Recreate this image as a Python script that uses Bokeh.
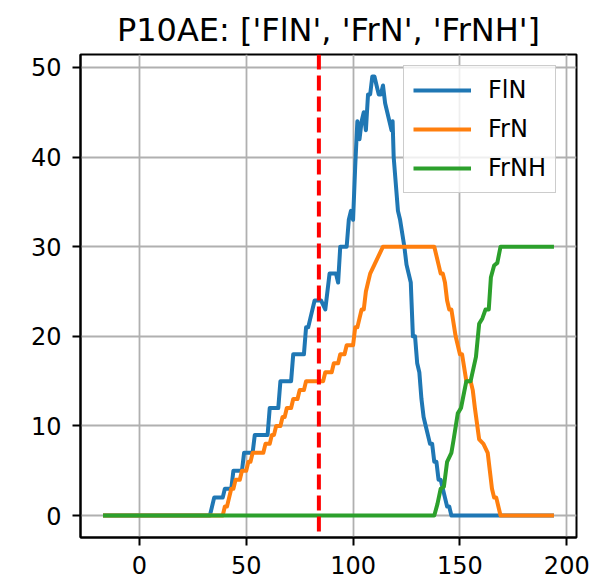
from bokeh.plotting import figure
from bokeh.models import Span, Range1d, Legend, LegendItem, FixedTicker
from bokeh.embed import file_html
from bokeh.resources import INLINE

title_text = "P10AE: ['FlN', 'FrN', 'FrNH']"
series_names = ["FlN", "FrN", "FrNH"]
x_ticks = [0, 50, 100, 150, 200]
y_ticks = [0, 10, 20, 30, 40, 50]
marker_x = 84

fln_x = [-17, 33, 35, 39, 40, 43, 44, 48, 49, 53, 54, 60, 61, 65, 66, 71, 72, 77, 78, 79, 80, 82,
         85, 87, 89, 92, 93, 94, 97, 98, 99, 100, 101, 102, 103, 104, 105, 106, 107, 108, 109, 110,
         111, 112, 113, 114, 115, 116, 117, 118, 118.5, 119, 121, 122, 124, 125, 127, 128, 129, 130,
         131, 132, 133, 134, 135, 136, 137, 138, 139, 140, 141, 142, 143, 144, 145, 146, 194]
fln_y = [0, 0, 2, 2, 3, 3, 5, 5, 7, 7, 9, 9, 12, 12, 15, 15, 18, 18, 21, 21, 22, 24,
         24, 23, 27, 27, 26, 30, 30, 33, 34, 33, 39, 44, 42, 44, 45, 43, 47, 47, 49, 49,
         48, 47, 47, 48, 46, 45, 44, 43, 44, 40, 34, 33, 30, 28, 26, 20, 20, 17,
         16, 13, 11, 10, 9, 8, 8, 6, 6, 4, 4, 3, 2, 1, 1, 0, 0]

frn_x = [-17, 39, 40, 41, 42, 43, 44, 45, 47, 48, 50, 51, 52, 53, 58, 59, 61, 62, 63, 64, 66, 67,
         68, 69, 71, 72, 74, 75, 77, 78, 82, 86, 87, 90, 91, 93, 94, 96, 97, 100, 101, 102, 103,
         104, 105, 106, 107, 108, 110, 112, 114, 138, 140, 141, 142, 143, 144, 145, 146, 148, 150,
         151, 153, 155, 156, 157, 159, 161, 163, 164, 165, 166, 167, 169, 194]
frn_y = [0, 0, 1, 1, 2, 3, 3, 4, 4, 5, 5, 6, 6, 7, 7, 8, 8, 9, 9, 10, 10, 11,
         11, 12, 12, 13, 13, 14, 14, 15, 15, 15, 16, 16, 17, 17, 18, 18, 19, 19, 21, 21, 22,
         23, 23, 25, 26, 27, 28, 29, 30, 30, 28, 27, 27, 26, 24, 23, 23, 20, 18,
         18, 15, 15, 14, 12, 8.5, 8, 7, 5, 3, 2, 2, 0, 0]

frnh_x = [-17, 138, 139.5, 141, 142.5, 144, 146, 147, 149, 150.5, 153, 155, 157.5, 159, 160.5,
          162, 163.5, 164.5, 166, 167.5, 169, 194]
frnh_y = [0, 0, 1.3, 3, 3.2, 6, 7, 8.4, 11.4, 12, 15, 15, 17.7, 21.4, 22,
          23, 23, 26.6, 27.9, 28.2, 30, 30]

colors = ["#1f77b4", "#ff7f0e", "#2ca02c"]
FONT = "DejaVu Sans"

p = figure(width=609, height=585, output_backend="svg", toolbar_location=None,
           x_range=Range1d(-27.55, 204.55), y_range=Range1d(-2.45, 51.45),
           min_border_left=80, min_border_right=33, min_border_top=54, min_border_bottom=48)

p.title.text = title_text
p.title.align = "center"
p.title.text_font = FONT
p.title.text_font_size = "32px"
p.title.text_font_style = "normal"
p.title.text_color = "black"
p.title.standoff = 12

p.outline_line_color = "black"
p.outline_line_width = 2
p.background_fill_color = "white"
p.border_fill_color = "white"

p.xaxis.ticker = FixedTicker(ticks=x_ticks, minor_ticks=[])
p.yaxis.ticker = FixedTicker(ticks=y_ticks, minor_ticks=[])
for ax in (p.xaxis, p.yaxis):
    ax.axis_line_color = "black"
    ax.axis_line_width = 2
    ax.major_tick_line_color = "black"
    ax.major_tick_line_width = 2
    ax.major_tick_out = 8
    ax.major_tick_in = 0
    ax.minor_tick_line_color = None
    ax.major_label_text_font = FONT
    ax.major_label_text_font_size = "24px"
    ax.major_label_text_color = "black"
p.xaxis.major_label_standoff = 10
p.yaxis.major_label_standoff = 11

p.grid.grid_line_color = "#b0b0b0"
p.grid.grid_line_width = 1.8

renderers = []
for xs, ys, c in zip([fln_x, frn_x, frnh_x], [fln_y, frn_y, frnh_y], colors):
    r = p.line(xs, ys, line_color=c, line_width=4, line_join="round")
    renderers.append(r)

span = Span(location=marker_x, dimension="height", line_color="red",
            line_dash="15 6", line_width=4)
p.add_layout(span)

legend = Legend(items=[LegendItem(label=n, renderers=[r]) for n, r in zip(series_names, renderers)],
                location=(323, 344),
                border_line_color="#cccccc", border_line_width=1.5, border_line_alpha=1.0,
                background_fill_color="white", background_fill_alpha=0.8,
                label_text_font=FONT, label_text_font_size="24px", label_text_color="black",
                glyph_width=58, glyph_height=30, label_height=30, spacing=9, padding=9,
                label_standoff=17)
p.add_layout(legend)

open("out.html", "w").write(file_html(p, INLINE))
